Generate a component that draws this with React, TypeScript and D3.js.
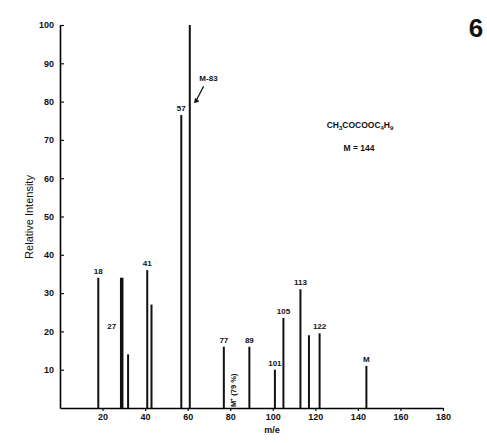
import React, { useEffect, useRef } from 'react';
import * as d3 from 'd3';

// Peaks (m/e and relative intensity)
const peakMz = [18, 29, 32, 41, 43, 57, 61, 77, 89, 101, 105, 113, 117, 122, 144];
const peakIntensity = [34, 34, 14, 36, 27, 76.5, 100, 16, 16, 10, 23.5, 31, 19, 19.5, 11];
const peakLabels = ['18', '', '', '41', '', '57', '', '77', '89', '101', '105', '113', '', '122', 'M'];

const xTicks = [20, 40, 60, 80, 100, 120, 140, 160, 180];
const yTicks = [10, 20, 30, 40, 50, 60, 70, 80, 90, 100];

const W = 487;
const H = 443;
const font = '"Liberation Sans", Arial, sans-serif';

function Spectrum() {
    const ref = useRef<SVGSVGElement>(null);

    useEffect(() => {
        const svg = d3.select(ref.current).html('');

        const x = d3.scaleLinear().domain([0, 180]).range([60, 443]);
        const y = d3.scaleLinear().domain([0, 100]).range([408, 25]);

        svg.append('rect').attr('width', W).attr('height', H).attr('fill', '#fff');

        // x axis
        const xAxis = svg.append('g')
            .attr('transform', `translate(0,${y(0)})`)
            .call(d3.axisBottom(x).tickValues(xTicks).tickSize(3).tickSizeOuter(0).tickPadding(3));
        xAxis.select('.domain').attr('stroke-width', 1.6);

        // y axis, ticks pointing inward
        const yAxis = svg.append('g')
            .attr('transform', `translate(${x(0)},0)`)
            .call(d3.axisLeft(y).tickValues(yTicks).tickSize(-4).tickSizeOuter(0).tickPadding(6));
        yAxis.select('.domain').attr('stroke-width', 1.6);

        svg.selectAll('.tick text')
            .attr('font-family', font)
            .attr('font-weight', 'bold')
            .attr('font-size', 9)
            .attr('fill', '#111');
        svg.selectAll('.tick line').attr('stroke', '#111').attr('stroke-width', 1.2);

        // peaks
        const peaks = peakMz.map((mz, i) => ({ mz, v: peakIntensity[i], label: peakLabels[i] }));
        svg.selectAll('.peak')
            .data(peaks)
            .enter().append('line')
            .attr('class', 'peak')
            .attr('x1', (d) => x(d.mz))
            .attr('x2', (d) => x(d.mz))
            .attr('y1', y(0))
            .attr('y2', (d) => y(d.v))
            .attr('stroke', '#111')
            .attr('stroke-width', (d) => (d.mz === 29 ? 3.5 : 2));

        svg.selectAll('.plabel')
            .data(peaks.filter((d) => d.label))
            .enter().append('text')
            .attr('class', 'plabel')
            .attr('x', (d) => x(d.mz))
            .attr('y', (d) => y(d.v) - 4)
            .attr('text-anchor', 'middle')
            .attr('font-family', font)
            .attr('font-weight', 'bold')
            .attr('font-size', 8)
            .attr('fill', '#111')
            .text((d) => d.label);

        const label = (tx: number, ty: number, t: string, size = 8, anchor = 'middle') =>
            svg.append('text')
                .attr('x', tx).attr('y', ty)
                .attr('text-anchor', anchor)
                .attr('font-family', font)
                .attr('font-weight', 'bold')
                .attr('font-size', size)
                .attr('fill', '#111')
                .text(t);

        // extra annotations
        label(x(24.3), y(20.5), '27');
        label(x(65.5), y(85.5), 'M-83', 8, 'start');
        svg.append('line')
            .attr('x1', x(67.5)).attr('y1', y(84))
            .attr('x2', x(64.2)).attr('y2', y(80.5))
            .attr('stroke', '#111').attr('stroke-width', 1.3);
        svg.append('path')
            .attr('d', d3.symbol(d3.symbolTriangle, 14)())
            .attr('transform', `translate(${x(64)},${y(80.2)}) rotate(-140)`)
            .attr('fill', '#111');

        svg.append('text')
            .attr('transform', `translate(${x(82.5)},${y(0) - 1}) rotate(-90)`)
            .attr('font-family', font)
            .attr('font-weight', 'bold')
            .attr('font-size', 7.5)
            .attr('fill', '#111')
            .text('M⁺ (79 %)');

        // formula
        const f = svg.append('text')
            .attr('x', 360).attr('y', 128)
            .attr('text-anchor', 'middle')
            .attr('font-family', font)
            .attr('font-weight', 'bold')
            .attr('font-size', 8.5)
            .attr('fill', '#111');
        f.append('tspan').text('CH');
        f.append('tspan').attr('font-size', 6).attr('dy', 2).text('3');
        f.append('tspan').attr('dy', -2).text('COCOOC');
        f.append('tspan').attr('font-size', 6).attr('dy', 2).text('4');
        f.append('tspan').attr('dy', -2).text('H');
        f.append('tspan').attr('font-size', 6).attr('dy', 2).text('9');
        label(359, 151, 'M = 144', 8.5);

        // axis titles
        label(272, 433, 'm/e', 9);
        svg.append('text')
            .attr('transform', `translate(33,217) rotate(-90)`)
            .attr('text-anchor', 'middle')
            .attr('font-family', font)
            .attr('font-size', 11)
            .attr('fill', '#111')
            .text('Relative Intensity');

        label(476, 37, '6', 26);
    }, []);

    return <svg ref={ref} width={W} height={H} style={{ display: 'block' }}></svg>;
}

export default function App() {
    return (
        <div style={{ position: 'fixed', left: 0, top: 0 }}>
            <Spectrum />
        </div>
    );
}
